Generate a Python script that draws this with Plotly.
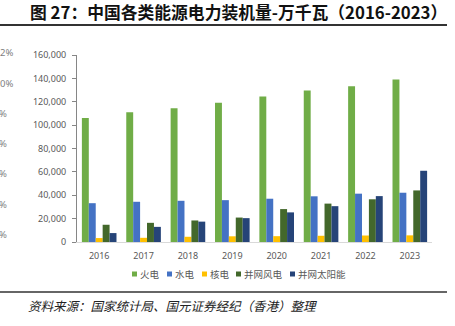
import plotly.graph_objects as go

years = ["2016", "2017", "2018", "2019", "2020", "2021", "2022", "2023"]
thermal = [106094, 111009, 114408, 119055, 124517, 129678, 133239, 139032]
hydro = [33207, 34411, 35259, 35804, 37028, 39094, 41350, 42154]
nuclear = [3364, 3582, 4466, 4874, 4989, 5326, 5553, 5691]
wind = [14747, 16400, 18426, 20915, 28165, 32848, 36544, 44134]
solar = [7631, 12942, 17433, 20418, 25343, 30656, 39261, 60949]
series_names = ["火电", "水电", "核电", "并网风电", "并网太阳能"]
series_colors = ["#70AD47", "#4472C4", "#FFC000", "#43682B", "#264478"]
y_ticks = [0, 20000, 40000, 60000, 80000, 100000, 120000, 140000, 160000]
y_tick_text = ["0", "20,000", "40,000", "60,000", "80,000", "100,000", "120,000", "140,000", "160,000"]
stray_texts = ["2%", "0%", "%", "%", "%", "%", "%"]
stray_y_px = [53, 83, 113, 143, 173, 204, 234]
stray_x_px = [15, 15, 9, 9, 9, 9, 9]
title = "图 27：中国各类能源电力装机量-万千瓦（2016-2023）"
source = "资料来源：国家统计局、国元证券经纪（香港）整理"

W, H = 455, 326
L, R, T, B = 77, 23, 55, 84
PW, PH = W - L - R, H - T - B

def px_x(px):
    return (px - L) / PW

def px_y(py):
    return (H - B - py) / PH

fig = go.Figure()
for name, vals, col in zip(series_names, [thermal, hydro, nuclear, wind, solar], series_colors):
    fig.add_trace(go.Bar(x=years, y=vals, name=name, marker=dict(color=col, line=dict(width=0))))

fig.update_layout(
    width=W, height=H,
    margin=dict(l=L, r=R, t=T, b=B, pad=0),
    paper_bgcolor="white", plot_bgcolor="white",
    barmode="group", bargap=0.22, bargroupgap=0,
    font=dict(family="Noto Sans CJK SC, sans-serif", color="#595959", size=9),
    showlegend=False,
    xaxis=dict(showline=True, linecolor="#D9D9D9", linewidth=1, ticks="", showgrid=False,
               ticklabelstandoff=5,
               tickfont=dict(size=9, color="#595959", family="Noto Sans, sans-serif")),
    yaxis=dict(range=[0, 160000], tickvals=y_ticks, ticktext=y_tick_text, showgrid=False,
               showline=True, linecolor="#868686", linewidth=1, ticks="outside", ticklen=4,
               tickcolor="#868686", zeroline=False, ticklabelstandoff=4,
               tickfont=dict(size=9, color="#595959", family="Noto Sans, sans-serif")),
)

anns = []
anns.append(dict(text="<b>" + title + "</b>", x=px_x(28), y=px_y(12), xref="paper", yref="paper",
                 xanchor="left", yanchor="middle", showarrow=False,
                 font=dict(size=16.8, color="#111111", family="Noto Sans CJK SC, sans-serif")))
anns.append(dict(text="<i>" + source + "</i>", x=px_x(26), y=px_y(305), xref="paper", yref="paper",
                 xanchor="left", yanchor="middle", showarrow=False,
                 font=dict(size=12.5, color="#222222", family="Noto Sans CJK SC, sans-serif")))
for t, yy, xx in zip(stray_texts, stray_y_px, stray_x_px):
    anns.append(dict(text=t, x=px_x(xx), y=px_y(yy), xref="paper", yref="paper",
                     xanchor="right", yanchor="middle", showarrow=False,
                     font=dict(size=9.5, color="#7F7F7F", family="Noto Sans, sans-serif")))

# manual legend
leg_sq_x = [132, 167, 202, 236, 290]
leg_y = 274
shapes = []
for name, col, sx in zip(series_names, series_colors, leg_sq_x):
    shapes.append(dict(type="rect", xref="paper", yref="paper", x0=px_x(sx), x1=px_x(sx + 5),
                       y0=px_y(leg_y + 2.5), y1=px_y(leg_y - 2.5), fillcolor=col, line=dict(width=0)))
    anns.append(dict(text=name, x=px_x(sx + 6), y=px_y(leg_y), xref="paper", yref="paper",
                     xanchor="left", yanchor="middle", showarrow=False,
                     font=dict(size=9.5, color="#595959", family="Noto Sans CJK SC, sans-serif")))

shapes.append(dict(type="line", xref="paper", yref="paper", x0=px_x(0), x1=px_x(447), y0=px_y(25), y1=px_y(25),
                   line=dict(color="#333333", width=2)))
shapes.append(dict(type="line", xref="paper", yref="paper", x0=px_x(0), x1=px_x(447), y0=px_y(292), y1=px_y(292),
                   line=dict(color="#333333", width=1.5)))
fig.update_layout(annotations=anns, shapes=shapes)

fig.write_html("out.html")
